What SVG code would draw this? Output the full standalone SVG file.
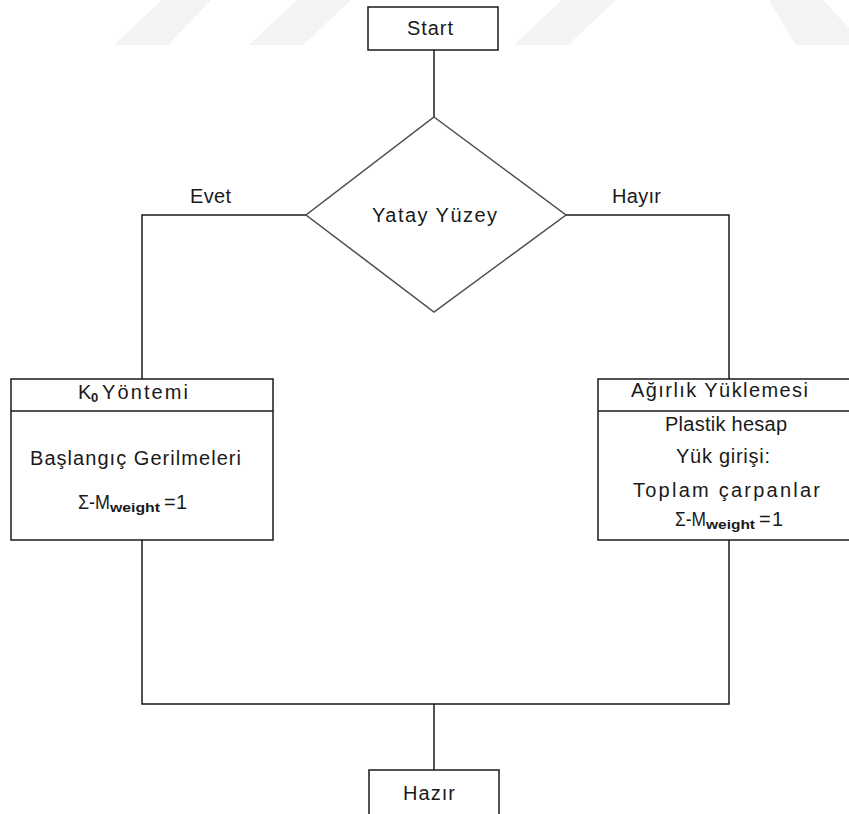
<svg xmlns="http://www.w3.org/2000/svg" width="849" height="814" viewBox="0 0 849 814">
<style>
.box{fill:#fff;stroke:#1a1a1a;stroke-width:1.5}
.dia{fill:#fff;stroke:#4d4d4d;stroke-width:1.5}
.ln{fill:none;stroke:#1a1a1a;stroke-width:1.5}
.t{font-family:"Liberation Sans",Arial,sans-serif;font-size:20px;fill:#1a1a1a}
.s{font-family:"Liberation Sans",Arial,sans-serif;font-size:13px;font-weight:bold;fill:#1a1a1a}
.wm{fill:#f3f3f3}
</style>
<rect width="849" height="814" fill="#fff"/>
<g id="watermark">
<polygon class="wm" points="114,45 168,45 211,0 162,0"/>
<polygon class="wm" points="249,45 303,45 351,0 297,0"/>
<polygon class="wm" points="514,45 568,45 616,0 562,0"/>
<polygon class="wm" points="769,0 823,0 849,28 849,45 796,45"/>
</g>
<g id="connectors">
<line class="ln" x1="434" y1="50" x2="434" y2="117"/>
<polyline class="ln" points="306,215 142,215 142,379"/>
<polyline class="ln" points="566,215 729,215 729,379"/>
<polyline class="ln" points="142,540 142,704 729,704 729,540"/>
<line class="ln" x1="434" y1="704" x2="434" y2="770"/>
</g>
<g id="start">
<rect class="box" x="368" y="7" width="130" height="43"/>
<text class="t" x="407" y="35" textLength="46" lengthAdjust="spacing">Start</text>
</g>
<g id="decision">
<polygon class="dia" points="434,117 566,215 434,312 306,215"/>
<text class="t" x="372" y="222" textLength="125" lengthAdjust="spacing">Yatay Yüzey</text>
</g>
<text class="t" x="190" y="203" textLength="41" lengthAdjust="spacing">Evet</text>
<text class="t" x="612" y="203" textLength="49" lengthAdjust="spacing">Hayır</text>
<g id="k0">
<rect class="box" x="11" y="379" width="262" height="161"/>
<line class="box" x1="11" y1="411" x2="273" y2="411"/>
<text class="t" x="78" y="399">K</text>
<text class="s" x="91" y="402" font-weight="normal">0</text>
<text class="t" x="102" y="399" textLength="86" lengthAdjust="spacing">Yöntemi</text>
<text class="t" x="30" y="465" textLength="211" lengthAdjust="spacing">Başlangıç Gerilmeleri</text>
<text class="t" x="78" y="509" textLength="32" lengthAdjust="spacingAndGlyphs">Σ-M</text>
<text class="s" x="110" y="512" textLength="50" lengthAdjust="spacingAndGlyphs">weight</text>
<text class="t" x="164" y="509" textLength="23" lengthAdjust="spacing">=1</text>
</g>
<g id="agirlik">
<rect class="box" x="598" y="379" width="262" height="161"/>
<line class="box" x1="598" y1="411" x2="860" y2="411"/>
<text class="t" x="631" y="397" textLength="177" lengthAdjust="spacing">Ağırlık  Yüklemesi</text>
<text class="t" x="665" y="431" textLength="122" lengthAdjust="spacing">Plastik hesap</text>
<text class="t" x="676" y="463" textLength="94" lengthAdjust="spacing">Yük girişi:</text>
<text class="t" x="633" y="497" textLength="187" lengthAdjust="spacing">Toplam  çarpanlar</text>
<text class="t" x="675" y="526" textLength="31" lengthAdjust="spacingAndGlyphs">Σ-M</text>
<text class="s" x="706" y="529" textLength="49" lengthAdjust="spacingAndGlyphs">weight</text>
<text class="t" x="759" y="526" textLength="24" lengthAdjust="spacing">=1</text>
</g>
<g id="hazir">
<rect class="box" x="369" y="770" width="130" height="60"/>
<text class="t" x="403" y="800" textLength="52" lengthAdjust="spacing">Hazır</text>
</g>
</svg>
